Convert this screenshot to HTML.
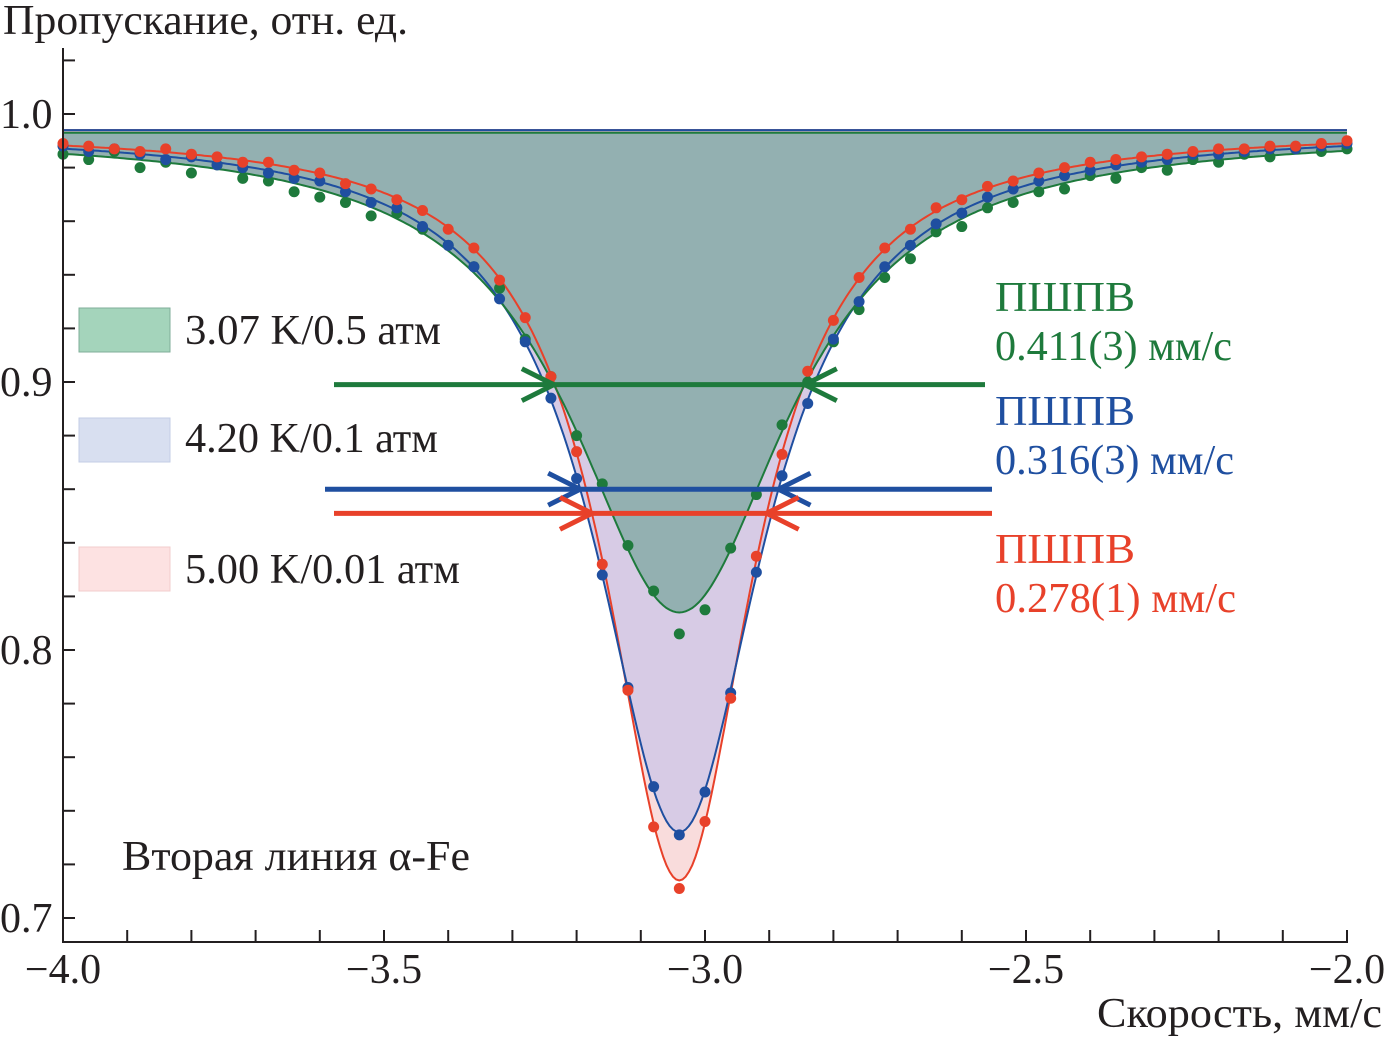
<!DOCTYPE html>
<html><head><meta charset="utf-8">
<style>
html,body{margin:0;padding:0;background:#fff;}
svg{display:block;}
text{font-family:"Liberation Serif","DejaVu Serif",serif;}
</style></head>
<body>
<svg id="chart" width="1384" height="1039" viewBox="0 0 1384 1039" xmlns="http://www.w3.org/2000/svg">
<text x="3" y="34" font-size="42" textLength="405" lengthAdjust="spacingAndGlyphs" fill="#231f20">Пропускание, отн. ед.</text>
<text x="1097" y="1027" font-size="42" textLength="285" lengthAdjust="spacingAndGlyphs" fill="#231f20">Скорость, мм/с</text>
<g id="fills"></g>
<g id="lines"></g>
<g id="points"></g>
<g id="axes"></g>
<g id="arrows"></g>
<g>
<rect x="79" y="308" width="91" height="44" fill="#a4d4bb" stroke="#7fae98"/>
<text x="185" y="344" font-size="42" textLength="256" lengthAdjust="spacingAndGlyphs" fill="#231f20">3.07 K/0.5 атм</text>
<rect x="79" y="418" width="91" height="44" fill="#d8dff0" stroke="#c3cde6"/>
<text x="185" y="452" font-size="42" textLength="253" lengthAdjust="spacingAndGlyphs" fill="#231f20">4.20 K/0.1 атм</text>
<rect x="79" y="547" width="91" height="44" fill="#fde2e2" stroke="#f2cccc"/>
<text x="185" y="583" font-size="42" textLength="275" lengthAdjust="spacingAndGlyphs" fill="#231f20">5.00 K/0.01 атм</text>
</g>
<text x="122" y="870" font-size="42" textLength="348" lengthAdjust="spacingAndGlyphs" fill="#231f20">Вторая линия α-Fe</text>
<g font-size="42">
<text x="995" y="311" textLength="140" lengthAdjust="spacingAndGlyphs" fill="#1e7a3c">ПШПВ</text>
<text x="995" y="360" textLength="237" lengthAdjust="spacingAndGlyphs" fill="#1e7a3c">0.411(3) мм/с</text>
<text x="995" y="425" textLength="140" lengthAdjust="spacingAndGlyphs" fill="#1f4fa0">ПШПВ</text>
<text x="995" y="474" textLength="239" lengthAdjust="spacingAndGlyphs" fill="#1f4fa0">0.316(3) мм/с</text>
<text x="995" y="563" textLength="140" lengthAdjust="spacingAndGlyphs" fill="#e8412a">ПШПВ</text>
<text x="995" y="612" textLength="241" lengthAdjust="spacingAndGlyphs" fill="#e8412a">0.278(1) мм/с</text>
</g>
</svg>
<script>
const velocities = [];
for (let i = 0; i <= 50; i++) velocities.push(-4.0 + i * 0.04);
const green = [.985,.983,.986,.980,.982,.978,.981,.976,.975,.971,.969,.967,.962,.963,.957,.951,.943,.935,.916,.902,.880,.862,.839,.822,.806,.815,.838,.858,.884,.900,.915,.927,.939,.946,.956,.958,.965,.967,.971,.972,.977,.976,.980,.979,.983,.982,.985,.984,.987,.986,.987];
const blue = [.988,.986,.987,.985,.983,.984,.981,.980,.978,.976,.975,.971,.967,.965,.958,.951,.943,.931,.915,.894,.864,.828,.786,.749,.731,.747,.784,.829,.865,.892,.916,.930,.943,.951,.959,.963,.969,.972,.975,.977,.979,.981,.982,.983,.985,.985,.986,.987,.987,.988,.989];
const red = [.989,.988,.987,.986,.987,.985,.984,.982,.982,.979,.978,.974,.972,.968,.964,.957,.950,.938,.924,.902,.874,.832,.785,.734,.711,.736,.782,.835,.873,.904,.923,.939,.950,.957,.965,.968,.973,.975,.978,.980,.982,.983,.984,.985,.986,.987,.987,.988,.988,.989,.990];
// fit parameters: [baseline, depth, center, fwhm]
const fitGreen = [0.993, 0.179, -3.04, 0.411];
const fitBlue = [0.994, 0.262, -3.04, 0.316];
const fitRed = [0.994, 0.280, -3.04, 0.278];
// levels at which the width arrows are drawn
const arrowLevels = [0.899, 0.860, 0.851];
const xTicks = [-4.0, -3.5, -3.0, -2.5, -2.0];
const xTickLabels = ["\u22124.0","\u22123.5","\u22123.0","\u22122.5","\u22122.0"];
const yTicks = [0.7, 0.8, 0.9, 1.0];
const yTickLabels = ["0.7","0.8","0.9","1.0"];

const X = v => 63 + (v + 4.0) * 642;
const Y = t => 114 + (1.0 - t) * 2680;
const NS = "http://www.w3.org/2000/svg";
function mk(tag, attrs, parent){const e=document.createElementNS(NS,tag);for(const k in attrs)e.setAttribute(k,attrs[k]);parent.appendChild(e);return e;}
const fitY = (p, v) => p[0] - p[1] / (1 + Math.pow((v - p[2]) / (p[3] / 2), 2));
function curvePts(p){const a=[];for(let v=-4.0;v<=-2.0001;v+=0.005)a.push(X(v).toFixed(1)+","+Y(fitY(p,v)).toFixed(1));a.push(X(-2.0).toFixed(1)+","+Y(fitY(p,-2.0)).toFixed(1));return a;}

const fills = document.getElementById('fills');
const lines = document.getElementById('lines');
const pts = document.getElementById('points');
const series = [
 {name:'red', p:fitRed, d:red, fill:'#f9dcdc', col:'#e8412a'},
 {name:'blue', p:fitBlue, d:blue, fill:'#d7cbe5', col:'#1f4fa0'},
 {name:'green', p:fitGreen, d:green, fill:'#93b0b1', col:'#1e7a3c'}
];
series.forEach(s=>{
  const c = curvePts(s.p);
  const f = mk('polygon',{points: X(-4)+","+Y(s.p[0])+" "+c.join(" ")+" "+X(-2)+","+Y(s.p[0]), fill:s.fill}, fills);
  
  
});
series.forEach(s=>{
  const base = mk('line',{x1:X(-4),x2:X(-2),y1:Y(s.p[0]),y2:Y(s.p[0]),stroke:s.col,'stroke-width':2}, lines);
  
  
  const l = mk('polyline',{points:curvePts(s.p).join(" "),fill:'none',stroke:s.col,'stroke-width':2}, lines);
  
  
});
[series[2], series[1], series[0]].forEach(s=>{
  s.d.forEach((t,i)=>{
    const c = mk('circle',{cx:X(velocities[i]),cy:Y(t),r:5.5,fill:s.col}, pts);
    
    
  });
});

const ax = document.getElementById('axes');
const a1 = mk('path',{d:'M63,48 V942 H1347 V930',fill:'none',stroke:'#231f20','stroke-width':2}, ax);


for (let k=0;k<=20;k++){
  const v=-4+k*0.1;
  const t = mk('line',{x1:X(v),x2:X(v),y1:942,y2:930,stroke:'#231f20','stroke-width':2}, ax);
  
  
}
xTicks.forEach((v,i)=>{
  const t = mk('text',{x:X(v),y:983,'font-size':42,'text-anchor':'middle',fill:'#231f20'}, ax);
  t.textContent = xTickLabels[i];
  
  
});
for (let k=0;k<=16;k++){
  const v=0.70+k*0.02;
  const t = mk('line',{x1:63,x2:75,y1:Y(v),y2:Y(v),stroke:'#231f20','stroke-width':2}, ax);
  
  
}
yTicks.forEach((v,i)=>{
  const t = mk('text',{x:0,y:Y(v)+14,'font-size':42,fill:'#231f20'}, ax);
  t.textContent = yTickLabels[i];
  
  
});

const ar = document.getElementById('arrows');
function fwhmArrow(name, p, level, x0, x1, col){
  const y = Y(level);
  const frac = (p[0] - level) / p[1];
  const dv = (p[3]/2) * Math.sqrt(Math.max(1/frac - 1, 0));
  const xl = X(p[2]-dv), xr = X(p[2]+dv);
  const g = mk('g',{stroke:col,'stroke-width':5,fill:'none'}, ar);
  
  
  mk('line',{x1:x0,x2:x1,y1:y,y2:y}, g);
  mk('polyline',{points:(xl-32)+","+(y-16)+" "+xl+","+y+" "+(xl-32)+","+(y+16)}, g);
  mk('polyline',{points:(xr+32)+","+(y-16)+" "+xr+","+y+" "+(xr+32)+","+(y+16)}, g);
}
fwhmArrow('green', fitGreen, arrowLevels[0], 334, 985, '#1e7a3c');
fwhmArrow('blue', fitBlue, arrowLevels[1], 325, 992, '#1f4fa0');
fwhmArrow('red', fitRed, arrowLevels[2], 334, 992, '#e8412a');
</script>
</body></html>
